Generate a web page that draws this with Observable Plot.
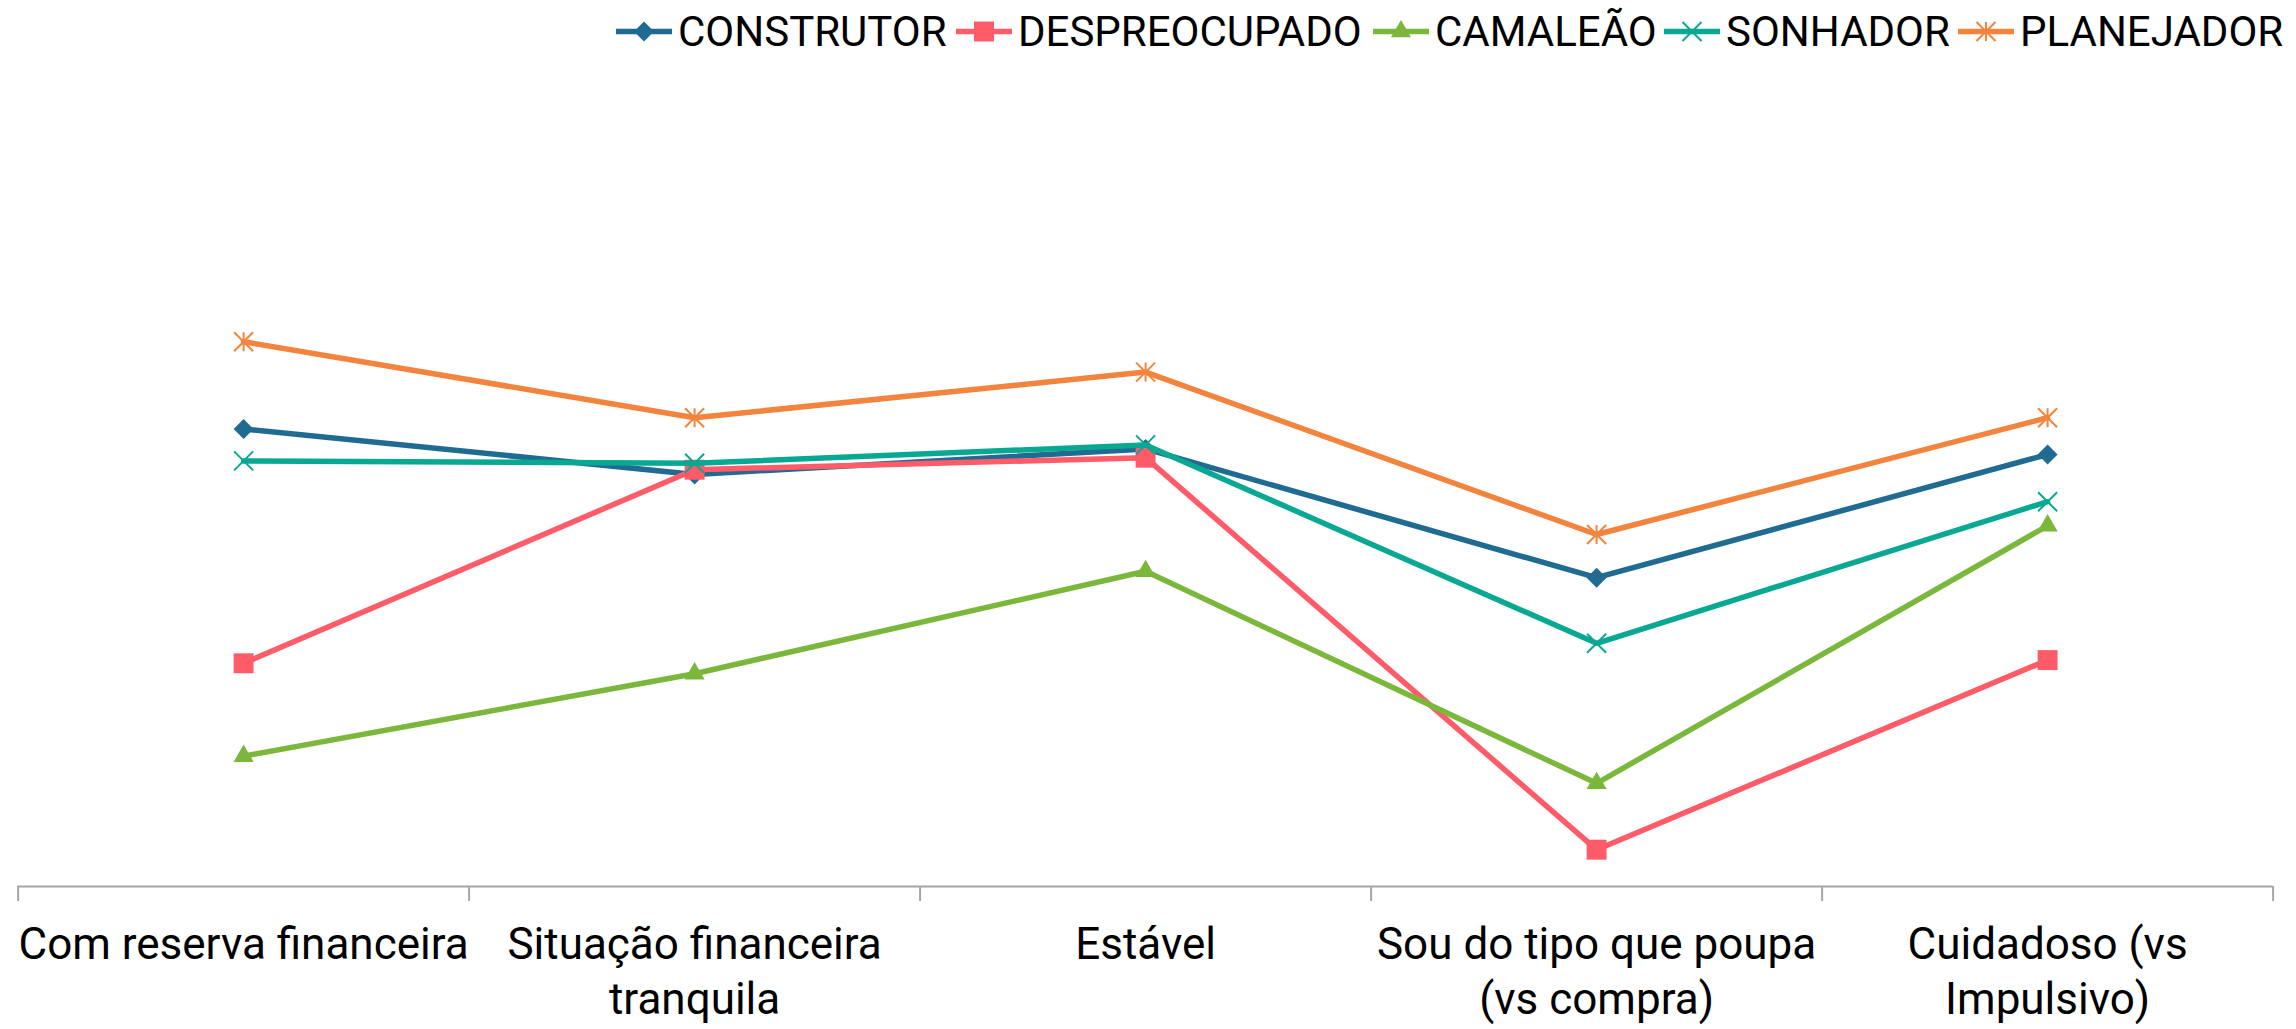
<!DOCTYPE html>
<html>
<head>
<meta charset="utf-8">
<script src="https://cdn.jsdelivr.net/npm/d3@7"></script>
<script src="https://cdn.jsdelivr.net/npm/@observablehq/plot@0.6"></script>
<style>
  html, body { margin: 0; padding: 0; background: #ffffff; }
  #chart { position: relative; width: 2296px; height: 1029px; font-family: Roboto, "Noto Sans", sans-serif; }
  #legend { position: absolute; top: 0; left: 0; width: 2296px; height: 70px; }
  .item { position: absolute; top: 11px; height: 42px; display: flex; align-items: flex-start; white-space: nowrap; }
  .item span { font-size: 42px; line-height: 42px; color: #000; margin-left: 5px; }
  #plot { position: absolute; top: 0; left: 0; }
</style>
</head>
<body>
<div id="chart"><div id="plot"></div><div id="legend"></div></div>
<script>
// ---- data ----
const categories = [
  "Com reserva financeira",
  "Situação financeira\ntranquila",
  "Estável",
  "Sou do tipo que poupa\n(vs compra)",
  "Cuidadoso (vs\nImpulsivo)"
];
const seriesNames = ["CONSTRUTOR", "DESPREOCUPADO", "CAMALEÃO", "SONHADOR", "PLANEJADOR"];
const construtor    = [57.2, 51.5, 54.7, 38.6, 54.0];
const despreocupado = [27.9, 52.1, 53.6, 4.6, 28.3];
const camaleao      = [16.3, 26.6, 39.4, 12.9, 45.1];
const sonhador      = [53.2, 52.9, 55.2, 30.4, 48.1];
const planejador    = [68.1, 58.6, 64.3, 44.0, 58.6];

// ---- styles ----
const seriesColors = ["#1F6B92", "#FF5B68", "#7AB73B", "#08A893", "#F2843D"];
const seriesValues = [construtor, despreocupado, camaleao, sonhador, planejador];

const timesSymbol = {
  draw(ctx, size) {
    const r = Math.sqrt(size / Math.PI);
    ctx.moveTo(-r, -r); ctx.lineTo(r, r);
    ctx.moveTo(r, -r); ctx.lineTo(-r, r);
  }
};
const starSymbol = {
  draw(ctx, size) {
    const r = Math.sqrt(size / Math.PI);
    ctx.moveTo(-r, -r); ctx.lineTo(r, r);
    ctx.moveTo(r, -r); ctx.lineTo(-r, r);
    ctx.moveTo(0, -r); ctx.lineTo(0, r);
  }
};
const markerSpecs = [
  {symbol: d3.symbolDiamond2, r: 9, filled: true},
  {symbol: d3.symbolSquare2, r: 12.7, filled: true},
  {symbol: d3.symbolTriangle2, r: 9.6, filled: true},
  {symbol: timesSymbol, r: 9.5, filled: false},
  {symbol: starSymbol, r: 9.5, filled: false}
];

const rows = seriesNames.flatMap((s, si) =>
  categories.map((c, ci) => ({series: s, cat: c, i: ci, v: seriesValues[si][ci]}))
);
const boundaries = d3.range(categories.length + 1).map(k => k - 0.5);

const marks = [
  Plot.ruleY([0], {stroke: "#A6A6A6", strokeWidth: 2}),
  Plot.axisX({ticks: boundaries, tickSize: 15, stroke: "#A6A6A6", strokeWidth: 2, tickFormat: () => "", label: null}),
  Plot.text(categories, {
    x: (d, i) => i, text: d => d, frameAnchor: "bottom", lineAnchor: "top",
    dy: 33, fontSize: 44, lineHeight: 1.26, fill: "#000", textAnchor: "middle"
  })
];
seriesNames.forEach((s, si) => {
  const d = rows.filter(r => r.series === s);
  const m = markerSpecs[si];
  marks.push(Plot.line(d, {x: "i", y: "v", stroke: seriesColors[si], strokeWidth: 5.5, strokeLinejoin: "round", strokeLinecap: "round"}));
  marks.push(Plot.dot(d, m.filled
    ? {x: "i", y: "v", symbol: m.symbol, r: m.r, fill: seriesColors[si], stroke: "none"}
    : {x: "i", y: "v", symbol: m.symbol, r: m.r, fill: "none", stroke: seriesColors[si], strokeWidth: 2}));
});

const chart = Plot.plot({
  width: 2296,
  height: 1029,
  marginLeft: 17.6,
  marginRight: 23.4,
  marginTop: 86,
  marginBottom: 143,
  style: {fontFamily: 'Roboto, "Noto Sans", sans-serif', background: "#fff", color: "#000"},
  x: {type: "linear", domain: [-0.5, categories.length - 0.5], axis: null, label: null},
  y: {domain: [0, 100], axis: null, label: null},
  marks
});
document.getElementById("plot").appendChild(chart);

// ---- legend ----
const legendLefts = [615, 955, 1372, 1663, 1957];
const legend = d3.select("#legend");
seriesNames.forEach((s, si) => {
  const m = markerSpecs[si];
  const item = legend.append("div").attr("class", "item").style("left", legendLefts[si] + "px");
  const svg = item.append("svg").attr("width", 58).attr("height", 42);
  svg.append("line").attr("x1", 1).attr("x2", 57).attr("y1", 20.5).attr("y2", 20.5)
    .attr("stroke", seriesColors[si]).attr("stroke-width", 5.5);
  const path = d3.symbol(m.symbol, Math.PI * m.r * m.r)();
  const p = svg.append("path").attr("d", path).attr("transform", "translate(29,20.5)");
  if (m.filled) p.attr("fill", seriesColors[si]);
  else p.attr("fill", "none").attr("stroke", seriesColors[si]).attr("stroke-width", 2);
  item.append("span").text(s);
});
</script>
</body>
</html>
